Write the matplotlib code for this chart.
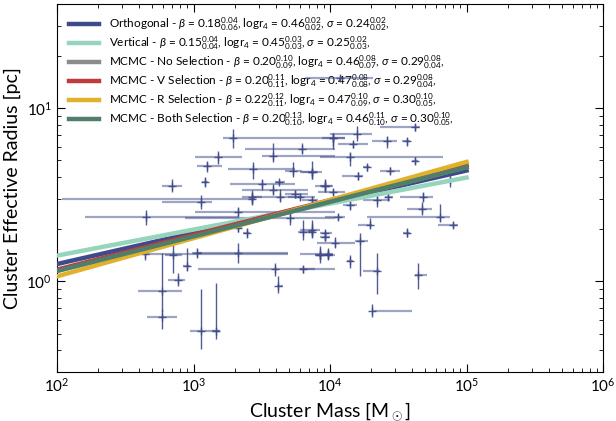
import numpy as np
import matplotlib
matplotlib.use("Agg")
import matplotlib.pyplot as plt

plt.rcParams['font.family'] = ['Lato', 'DejaVu Sans']
plt.rcParams['mathtext.fontset'] = 'custom'
plt.rcParams['mathtext.rm'] = 'Lato'
plt.rcParams['mathtext.it'] = 'Lato:italic'
plt.rcParams['mathtext.bf'] = 'Lato:bold'

# cluster data, log10 values: centre, lower bound, upper bound
log_mass = [3.292, 4.024, 3.792, 3.585, 3.182, 3.096, 3.438, 3.731, 3.866, 2.840,
            3.084, 3.504, 3.626, 3.585, 3.426, 3.634, 3.744, 3.780, 3.963, 3.866,
            3.052, 3.426, 2.652, 3.328, 3.707, 3.328, 3.390, 3.805, 3.866, 3.963,
            2.645, 2.852, 3.023, 2.950, 3.328, 3.927, 3.988, 3.597, 2.889, 3.622,
            2.772, 2.772, 3.052, 3.165, 4.622, 4.195, 4.024, 4.415, 4.561, 4.171,
            4.146, 4.622, 4.268, 4.439, 3.865, 4.207, 3.963, 4.879, 4.024, 4.342,
            4.427, 4.684, 4.146, 4.671, 4.806, 4.061, 4.293, 4.903, 4.561, 3.865,
            3.963, 4.036, 4.220, 3.927, 3.988, 4.146, 4.342, 4.647, 4.305, 3.804,
            4.070]
log_mass_lo = [3.219, 3.365, 3.377, 3.499, 3.011, 3.023, 3.255, 3.670, 3.792, 2.767,
               3.060, 3.267, 3.597, 3.353, 3.353, 3.426, 3.670, 3.695, 3.927, 3.792,
               2.767, 2.034, 2.205, 3.011, 2.938, 3.304, 3.365, 3.768, 3.841, 3.927,
               2.620, 2.791, 2.987, 2.926, 3.035, 3.890, 3.963, 3.035, 2.816, 3.609,
               2.596, 2.657, 2.974, 3.133, 4.366, 4.000, 3.939, 4.305, 4.525, 4.061,
               3.927, 4.598, 4.244, 4.366, 3.780, 4.085, 3.890, 4.854, 3.914, 4.244,
               4.403, 4.513, 4.097, 4.561, 4.268, 3.963, 4.207, 4.793, 4.537, 3.780,
               3.927, 3.902, 4.183, 3.890, 3.780, 4.122, 4.244, 4.622, 4.305, 3.780,
               3.817]
log_mass_hi = [3.365, 4.110, 4.037, 4.037, 3.353, 3.206, 3.744, 3.792, 3.939, 2.913,
               3.109, 3.744, 3.670, 3.841, 3.499, 3.792, 3.841, 3.890, 4.012, 3.915,
               3.133, 3.451, 3.328, 4.037, 4.037, 3.353, 3.414, 3.866, 3.890, 4.012,
               3.695, 2.913, 3.060, 2.974, 3.695, 4.037, 4.024, 4.037, 2.938, 3.658,
               2.913, 2.877, 3.194, 3.194, 4.659, 4.305, 4.110, 4.488, 4.586, 4.281,
               4.830, 4.647, 4.293, 4.513, 3.914, 4.244, 4.024, 4.903, 4.110, 4.439,
               4.464, 4.757, 4.195, 4.745, 4.879, 4.110, 4.305, 4.940, 4.586, 3.927,
               4.000, 4.183, 4.281, 3.975, 4.024, 4.171, 4.366, 4.708, 4.598, 3.890,
               4.315]
log_radius = [0.831, 0.831, 0.764, 0.726, 0.716, 0.669, 0.650, 0.640, 0.631, 0.554,
              0.573, 0.564, 0.573, 0.530, 0.488, 0.488, 0.507, 0.488, 0.554, 0.469,
              0.459, 0.478, 0.373, 0.402, 0.364, 0.307, 0.278, 0.288, 0.288, 0.278,
              0.160, 0.154, 0.164, 0.088, 0.164, 0.154, 0.154, 0.069, 0.011, -0.027,
              -0.057, -0.208, -0.284, -0.284, 0.892, 0.850, 0.831, 0.812, 0.812, 0.792,
              0.716, 0.697, 0.659, 0.640, 0.631, 0.611, 0.554, 0.583, 0.516, 0.469,
              0.488, 0.488, 0.440, 0.421, 0.373, 0.373, 0.326, 0.326, 0.282, 0.297,
              0.259, 0.221, 0.236, 0.154, 0.160, 0.116, 0.059, 0.040, -0.170, 0.069,
              1.177]
log_radius_lo = [0.773, 0.783, 0.735, 0.688, 0.678, 0.631, 0.592, 0.602, 0.592, 0.516,
                 0.545, 0.526, 0.560, 0.497, 0.450, 0.459, 0.484, 0.469, 0.516, 0.450,
                 0.421, 0.440, 0.326, 0.373, 0.326, 0.288, 0.250, 0.240, 0.250, 0.231,
                 0.126, 0.050, 0.135, 0.059, 0.107, 0.126, 0.126, 0.030, -0.027, -0.065,
                 -0.179, -0.274, -0.389, -0.331, 0.869, 0.812, 0.764, 0.773, 0.783, 0.773,
                 0.669, 0.678, 0.636, 0.621, 0.592, 0.583, 0.516, 0.545, 0.497, 0.431,
                 0.469, 0.459, 0.411, 0.383, 0.345, 0.354, 0.307, 0.307, 0.259, 0.259,
                 0.240, 0.192, 0.030, 0.107, 0.135, 0.078, -0.074, -0.046, -0.208, 0.050,
                 1.160]
log_radius_hi = [0.878, 0.859, 0.802, 0.802, 0.754, 0.697, 0.688, 0.688, 0.650, 0.592,
                 0.602, 0.592, 0.587, 0.564, 0.526, 0.535, 0.526, 0.507, 0.583, 0.488,
                 0.497, 0.516, 0.411, 0.431, 0.402, 0.335, 0.307, 0.354, 0.354, 0.297,
                 0.192, 0.221, 0.192, 0.192, 0.221, 0.202, 0.183, 0.107, 0.050, 0.030,
                 0.164, -0.160, -0.046, -0.008, 0.907, 0.897, 0.859, 0.840, 0.831, 0.812,
                 0.745, 0.716, 0.678, 0.659, 0.697, 0.631, 0.592, 0.611, 0.535, 0.497,
                 0.507, 0.516, 0.469, 0.459, 0.450, 0.392, 0.364, 0.345, 0.307, 0.335,
                 0.288, 0.259, 0.278, 0.192, 0.192, 0.154, 0.164, 0.107, -0.131, 0.088,
                 1.194]

# fitted relations: end points (mass, radius)
fit_mass = [1e2, 1e5]
fit_names = ['Orthogonal', 'Vertical', 'MCMC - No Selection', 'MCMC - V Selection',
             'MCMC - R Selection', 'MCMC - Both Selection']
fit_radius = [[1.26, 4.37], [1.41, 3.98], [1.15, 4.57], [1.17, 4.68], [1.07, 4.90], [1.15, 4.57]]
fit_beta = ['0.18$^{0.04}_{0.06}$', '0.15$^{0.04}_{0.04}$', '0.20$^{0.10}_{0.09}$',
            '0.20$^{0.11}_{0.11}$', '0.22$^{0.12}_{0.11}$', '0.20$^{0.13}_{0.10}$']
fit_logr4 = ['0.46$^{0.02}_{0.02}$', '0.45$^{0.03}_{0.03}$', '0.46$^{0.08}_{0.07}$',
             '0.47$^{0.08}_{0.08}$', '0.47$^{0.10}_{0.09}$', '0.46$^{0.11}_{0.10}$']
fit_sigma = ['0.24$^{0.02}_{0.02}$', '0.25$^{0.02}_{0.03}$', '0.29$^{0.08}_{0.04}$',
             '0.29$^{0.08}_{0.04}$', '0.30$^{0.10}_{0.05}$', '0.30$^{0.10}_{0.05}$']
fit_colors = ['#3e4a89', '#96d4bc', '#8c8c8c', '#bf3b3e', '#e2b12c', '#4f7f6b']

navy = '#3e4a89'

m = 10 ** np.array(log_mass)
m_lo = 10 ** np.array(log_mass_lo)
m_hi = 10 ** np.array(log_mass_hi)
r = 10 ** np.array(log_radius)
r_lo = 10 ** np.array(log_radius_lo)
r_hi = 10 ** np.array(log_radius_hi)

fig = plt.figure(figsize=(6.16, 4.21), dpi=100)
ax = fig.add_axes([0.0925, 0.1164, 0.8865, 0.8741])

ax.errorbar(m, r, xerr=[m - m_lo, m_hi - m], fmt='none', ecolor=navy,
            alpha=0.5, elinewidth=1.6, zorder=1)
ax.errorbar(m, r, yerr=[r - r_lo, r_hi - r], fmt='+', color=navy, ecolor=navy,
            markersize=6, markeredgewidth=1.0, elinewidth=1.0, alpha=0.9, zorder=2)

for i in range(len(fit_names)):
    lab = (fit_names[i] + r' - $\beta$ = ' + fit_beta[i] + r', logr$_4$ = ' + fit_logr4[i]
           + r', $\sigma$ = ' + fit_sigma[i] + ',')
    ax.plot(fit_mass, fit_radius[i], color=fit_colors[i], lw=3.2, label=lab, zorder=3)

ax.set_xscale('log')
ax.set_yscale('log')
ax.set_xlim(1e2, 1e6)
ax.set_ylim(0.3, 40)
ax.tick_params(which='both', direction='in', top=True, right=True, labelsize=11)
ax.tick_params(which='major', length=6)
ax.tick_params(which='minor', length=3)
ax.set_xlabel(r'Cluster Mass [M$_\odot$]', fontsize=14)
ax.set_ylabel('Cluster Effective Radius [pc]', fontsize=14)

leg = ax.legend(loc='upper left', frameon=False, fontsize=8.5, handlelength=2.6,
                labelspacing=0.12, borderaxespad=0.6)
leg.set_zorder(0.5)

fig.savefig('out.png', dpi=100)
